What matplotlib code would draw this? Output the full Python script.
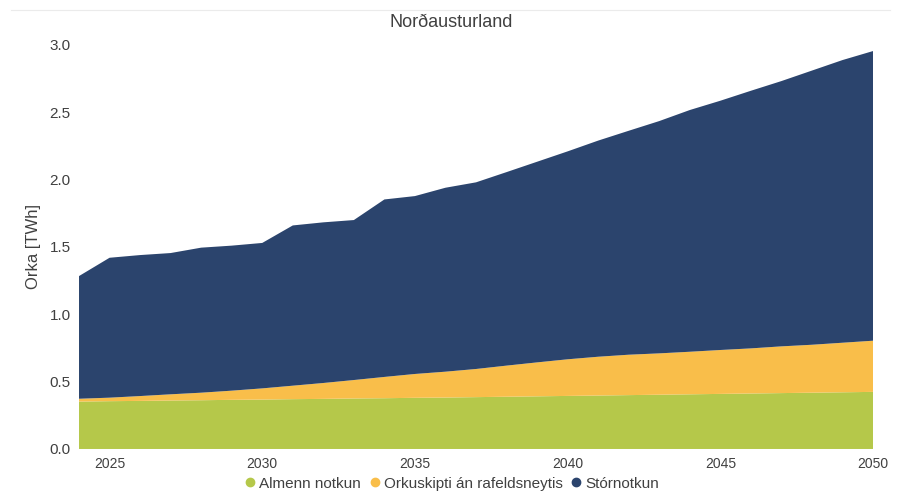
import matplotlib
matplotlib.use("Agg")
import matplotlib.pyplot as plt
from matplotlib.lines import Line2D

plt.rcParams['font.family'] = ['Liberation Sans', 'DejaVu Sans']

years = list(range(2024, 2051))

# almenn notkun (neðsta lag)
almenn = [0.352, 0.355, 0.357, 0.360, 0.362, 0.365, 0.367, 0.370, 0.372, 0.375,
          0.377, 0.380, 0.382, 0.385, 0.388, 0.391, 0.394, 0.397, 0.400, 0.403,
          0.406, 0.409, 0.412, 0.415, 0.418, 0.421, 0.424]
# orkuskipti án rafeldsneytis
orkuskipti = [0.021, 0.026, 0.036, 0.046, 0.056, 0.068, 0.083, 0.100, 0.118, 0.137,
              0.158, 0.177, 0.192, 0.209, 0.231, 0.252, 0.272, 0.288, 0.300, 0.307,
              0.316, 0.326, 0.335, 0.347, 0.356, 0.368, 0.380]
# stórnotkun
stornotkun = [0.911, 1.039, 1.047, 1.049, 1.077, 1.077, 1.080, 1.190, 1.193, 1.188,
              1.318, 1.321, 1.366, 1.386, 1.437, 1.490, 1.544, 1.605, 1.663, 1.725,
              1.795, 1.851, 1.913, 1.970, 2.036, 2.099, 2.151]

labels = ['Almenn notkun', 'Orkuskipti án rafeldsneytis', 'Stórnotkun']
colors = ['#B5C84A', '#F9BE4A', '#2B446D']
text_col = '#404040'

fig = plt.figure(figsize=(9.03, 4.96), dpi=100)
ax = fig.add_axes([0.0875, 0.0948, 0.8793, 0.8145])

ax.stackplot(years, almenn, orkuskipti, stornotkun, colors=colors, linewidth=0)

ax.set_xlim(2024, 2050)
ax.set_ylim(0, 3.0)
ax.set_xticks([2025, 2030, 2035, 2040, 2045, 2050])
ax.set_yticks([0, 0.5, 1.0, 1.5, 2.0, 2.5, 3.0])
ax.set_yticklabels(['0.0', '0.5', '1.0', '1.5', '2.0', '2.5', '3.0'])
ax.tick_params(length=0, labelsize=11, colors=text_col, pad=6)
ax.tick_params(axis='x', labelsize=10, pad=6)
for s in ax.spines.values():
    s.set_visible(False)

ax.set_ylabel('Orka [TWh]', fontsize=12, color=text_col, labelpad=6)
fig.text(0.5, 0.955, 'Norðausturland', ha='center', va='center', fontsize=13, color=text_col)

# þunn lína efst
fig.add_artist(Line2D([0.012, 0.986], [0.98, 0.98], color='#ebebeb', linewidth=0.8))

handles = [Line2D([], [], marker='o', linestyle='', color=c, markersize=6) for c in colors]
fig.legend(handles, labels, loc='center', bbox_to_anchor=(0.5, 0.025), ncol=3,
           frameon=False, fontsize=11, handlelength=0.8, handletextpad=0.2,
           columnspacing=0.5, labelcolor=text_col)

fig.savefig('out.png', dpi=100)
